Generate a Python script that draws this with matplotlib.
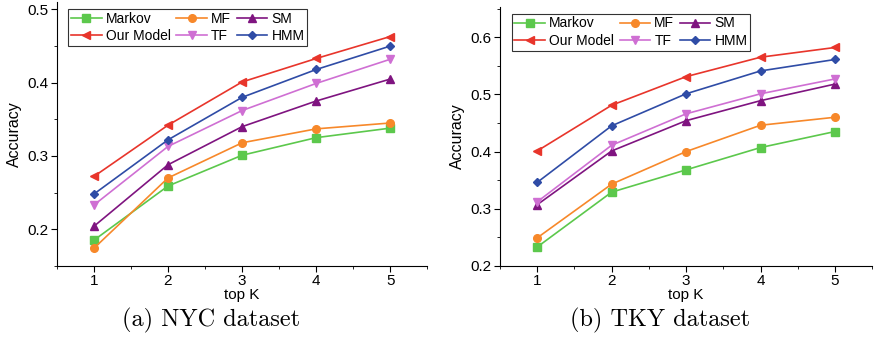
import matplotlib.pyplot as plt
from matplotlib.ticker import MultipleLocator

top_k = [1, 2, 3, 4, 5]
labels = ['Markov', 'MF', 'SM', 'Our Model', 'TF', 'HMM']
colors = ['#5cc84c', '#f7882a', '#7f1480', '#e8352b', '#cf6fd3', '#2f4ca6']
markers = ['s', 'o', '^', '<', 'v', 'D']

nyc = {
    'Markov': [0.185, 0.259, 0.301, 0.325, 0.338],
    'MF': [0.174, 0.270, 0.318, 0.337, 0.345],
    'SM': [0.204, 0.288, 0.340, 0.375, 0.405],
    'Our Model': [0.272, 0.342, 0.401, 0.433, 0.463],
    'TF': [0.233, 0.313, 0.362, 0.399, 0.432],
    'HMM': [0.248, 0.322, 0.380, 0.418, 0.450],
}
tky = {
    'Markov': [0.233, 0.329, 0.368, 0.407, 0.435],
    'MF': [0.249, 0.343, 0.400, 0.446, 0.460],
    'SM': [0.307, 0.401, 0.454, 0.489, 0.518],
    'Our Model': [0.401, 0.481, 0.531, 0.565, 0.582],
    'TF': [0.312, 0.411, 0.466, 0.501, 0.527],
    'HMM': [0.346, 0.445, 0.501, 0.541, 0.561],
}

plt.rcParams['font.family'] = ['Liberation Sans', 'DejaVu Sans']


def draw(ax, data, ylim):
    handles = {}
    for name, c, m in zip(labels, colors, markers):
        ms = 4.5 if m == 'D' else 5.5
        h, = ax.plot(top_k, data[name], color=c, marker=m, markersize=ms,
                     linewidth=1.2, label=name)
        handles[name] = h
    ax.set_xlim(0.5, 5.5)
    ax.set_ylim(*ylim)
    ax.xaxis.set_major_locator(MultipleLocator(1))
    ax.xaxis.set_minor_locator(MultipleLocator(0.5))
    ax.yaxis.set_major_locator(MultipleLocator(0.1))
    ax.yaxis.set_minor_locator(MultipleLocator(0.05))
    ax.yaxis.set_major_formatter(plt.FormatStrFormatter('%.1f'))
    ax.spines['top'].set_visible(False)
    ax.spines['right'].set_visible(False)
    ax.tick_params(which='major', direction='out', length=4, pad=2, labelsize=11)
    ax.tick_params(which='minor', direction='out', length=2.5)
    ax.set_ylabel('Accuracy', fontsize=11.5, labelpad=4)
    ax.set_xlabel('top K', fontsize=11, labelpad=0)
    order = ['Markov', 'Our Model', 'MF', 'TF', 'SM', 'HMM']
    leg = ax.legend([handles[n] for n in order], order, ncol=3, loc='upper left',
                    bbox_to_anchor=(0.02, 0.99), fontsize=10, frameon=True,
                    fancybox=False, edgecolor='black', handlelength=2.2,
                    handletextpad=0.3, columnspacing=0.4, labelspacing=0.25,
                    borderpad=0.2, borderaxespad=0.3)
    leg.get_frame().set_linewidth(0.8)


fig = plt.figure(figsize=(8.74, 3.44), dpi=100)
ax1 = fig.add_axes([0.065, 0.227, 0.424, 0.767])
ax2 = fig.add_axes([0.572, 0.227, 0.426, 0.753])
draw(ax1, nyc, (0.15, 0.51))
draw(ax2, tky, (0.2, 0.653))
fig.text(0.241, 0.068, '(a) NYC dataset', ha='center', va='center',
         fontsize=17.5, family='cmr10')
fig.text(0.755, 0.068, '(b) TKY dataset', ha='center', va='center',
         fontsize=17.5, family='cmr10')
fig.savefig('out.png', dpi=100)
